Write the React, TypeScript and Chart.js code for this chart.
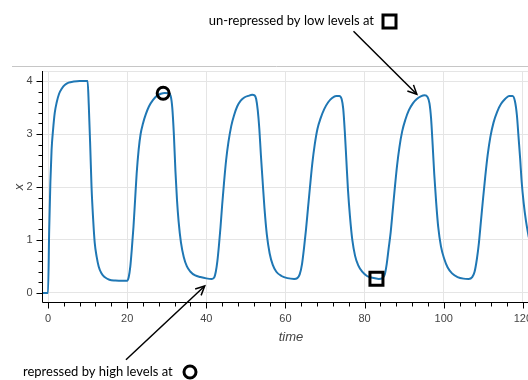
import React, { useEffect, useRef } from "react";
import { Chart, registerables } from "chart.js";

Chart.register(...registerables);

// time samples and x(t) values
const times: number[] = [
  -1.5, 0, 0, 0.3, 0.6, 0.9, 1.3, 1.7, 2.2, 2.8, 3.5, 4.3, 5.2, 6.5, 8, 10,
  10.3, 10.7, 11.0, 11.4, 11.8, 12.3, 12.8, 13.5, 14.3, 15.5, 17, 19, 20,
  20.4, 20.8, 21.2, 21.6, 22.0, 22.4, 22.9, 23.4, 24, 24.7, 25.5, 26.5, 27.5, 28.5, 29.5, 30.5,
  31.0, 31.4, 31.8, 32.2, 32.6, 33.0, 33.6, 34.3, 35.1, 36, 37.2, 38.5, 40, 41.4,
  42, 42.4, 42.8, 43.2, 43.6, 44.0, 44.5, 45.0, 45.6, 46.3, 47.0, 47.8, 48.7, 49.6, 50.6, 51.6,
  52.2, 52.6, 53.0, 53.4, 53.8, 54.2, 54.7, 55.3, 56.0, 56.8, 57.7, 59, 60.5, 62.2,
  63, 63.6, 64.2, 64.7, 65.2, 65.7, 66.2, 66.8, 67.4, 68.1, 68.9, 69.8, 70.8, 71.8, 72.8, 73.6,
  74.2, 74.6, 75.0, 75.4, 75.8, 76.3, 76.9, 77.6, 78.4, 79.4, 80.6, 82, 83.6,
  84.5, 85.1, 85.6, 86.1, 86.6, 87.1, 87.6, 88.2, 88.8, 89.5, 90.3, 91.2, 92.2, 93.2, 94.2, 95.2,
  95.9, 96.4, 96.8, 97.2, 97.6, 98.1, 98.6, 99.3, 100.1, 101, 102.1, 103.5, 105, 106.3,
  107.2, 107.8, 108.4, 108.9, 109.4, 109.9, 110.5, 111.1, 111.8, 112.6, 113.5, 114.5, 115.5, 116.5, 117.4,
  118.0, 118.5, 118.9, 119.3, 119.7, 120.2, 120.8, 121.5,
];
const xValues: number[] = [
  0, 0, 0, 1.2, 2.1, 2.7, 3.1, 3.4, 3.6, 3.76, 3.86, 3.93, 3.97, 3.99, 4.0, 4.0,
  3.55, 2.7, 2.0, 1.4, 0.95, 0.68, 0.5, 0.37, 0.3, 0.25, 0.235, 0.23, 0.23,
  0.3, 0.5, 0.85, 1.25, 1.75, 2.25, 2.7, 3.0, 3.2, 3.37, 3.52, 3.64, 3.72, 3.76, 3.775, 3.77,
  3.72, 3.5, 3.0, 2.3, 1.75, 1.35, 0.95, 0.68, 0.5, 0.4, 0.33, 0.3, 0.275, 0.265,
  0.29, 0.4, 0.6, 0.9, 1.25, 1.65, 2.1, 2.5, 2.85, 3.15, 3.35, 3.52, 3.63, 3.69, 3.72, 3.74,
  3.73, 3.66, 3.45, 3.1, 2.6, 2.15, 1.6, 1.1, 0.75, 0.53, 0.4, 0.32, 0.28, 0.265,
  0.28, 0.35, 0.55, 0.85, 1.2, 1.6, 2.0, 2.45, 2.8, 3.1, 3.3, 3.47, 3.6, 3.68, 3.72, 3.72,
  3.66, 3.48, 3.05, 2.5, 1.95, 1.45, 1.0, 0.7, 0.52, 0.4, 0.32, 0.285, 0.265,
  0.28, 0.35, 0.55, 0.85, 1.15, 1.55, 1.95, 2.4, 2.75, 3.05, 3.27, 3.45, 3.58, 3.66, 3.71, 3.73,
  3.7, 3.58, 3.3, 2.8, 2.25, 1.7, 1.25, 0.88, 0.65, 0.48, 0.37, 0.3, 0.27, 0.265,
  0.3, 0.4, 0.65, 0.95, 1.35, 1.75, 2.2, 2.6, 2.95, 3.22, 3.42, 3.57, 3.66, 3.72, 3.72,
  3.62, 3.35, 2.95, 2.55, 2.1, 1.7, 1.35, 1.05,
];

// highlighted points
const highPoint = { t: 29.1, x: 3.77 };
const lowPoint = { t: 83.0, x: 0.27 };

// axis ticks
const xMajorTicks: number[] = [0, 20, 40, 60, 80, 100, 120];
const xMinorStep = 4;
const yMajorTicks: number[] = [0, 1, 2, 3, 4];
const yMinorStep = 0.2;

// annotations (arrow start and tip in data units)
const topText = "un-repressed by low levels at";
const bottomText = "repressed by high levels at";
const topArrow = { from: { t: 77.2, x: 4.94 }, to: { t: 93.2, x: 3.75 } };
const bottomArrow = { from: { t: 19.7, x: -1.26 }, to: { t: 39.6, x: 0.13 } };

const X_MIN = -1.52;
const X_MAX = 121.5;
const Y_MIN = -0.19;
const Y_MAX = 4.19;

const VIEW_W = 528;
const CANVAS_W = 541;

function drawArrow(ctx: CanvasRenderingContext2D, x1: number, y1: number, x2: number, y2: number) {
  ctx.save();
  ctx.strokeStyle = "#000";
  ctx.lineWidth = 1.5;
  ctx.beginPath();
  ctx.moveTo(x1, y1);
  ctx.lineTo(x2, y2);
  ctx.stroke();
  const a = Math.atan2(y2 - y1, x2 - x1);
  const len = 10;
  const spread = Math.PI / 7;
  ctx.beginPath();
  ctx.moveTo(x2 - len * Math.cos(a - spread), y2 - len * Math.sin(a - spread));
  ctx.lineTo(x2, y2);
  ctx.lineTo(x2 - len * Math.cos(a + spread), y2 - len * Math.sin(a + spread));
  ctx.stroke();
  ctx.restore();
}

const overlayPlugin = {
  id: "overlay",
  afterDraw(chart: any) {
    const ctx: CanvasRenderingContext2D = chart.ctx;
    const { left, right, top, bottom } = chart.chartArea;
    const xs = chart.scales.x;
    const ys = chart.scales.y;
    ctx.save();

    // toolbar separator line
    ctx.strokeStyle = "#c6c6c6";
    ctx.lineWidth = 1;
    ctx.beginPath();
    ctx.moveTo(12, top - 4.5);
    ctx.lineTo(chart.width, top - 4.5);
    ctx.stroke();

    // frame outline top
    ctx.strokeStyle = "#e5e5e5";
    ctx.beginPath();
    ctx.moveTo(left, top + 0.5);
    ctx.lineTo(right, top + 0.5);
    ctx.stroke();

    // axes
    ctx.strokeStyle = "#000";
    ctx.lineWidth = 1;
    const ax = Math.round(left) + 0.5;
    const ay = Math.round(bottom) - 0.5;
    ctx.beginPath();
    ctx.moveTo(ax, top);
    ctx.lineTo(ax, ay);
    ctx.lineTo(right, ay);
    ctx.stroke();

    // y ticks
    ctx.beginPath();
    for (let v = 0; v <= Y_MAX + 1e-9; v += yMinorStep) {
      const py = Math.round(ys.getPixelForValue(v)) + 0.5;
      const isMajor = Math.abs(v - Math.round(v)) < 1e-6;
      ctx.moveTo(ax, py);
      ctx.lineTo(ax - (isMajor ? 6 : 4), py);
    }
    // x ticks
    for (let v = 0; v <= X_MAX + 1e-9; v += xMinorStep) {
      const px = Math.round(xs.getPixelForValue(v)) + 0.5;
      const isMajor = v % 20 === 0;
      ctx.moveTo(px, ay);
      ctx.lineTo(px, ay + (isMajor ? 6 : 4));
    }
    ctx.stroke();

    // tick labels
    ctx.fillStyle = "#444";
    ctx.font = "11px 'Liberation Sans', Arial, sans-serif";
    ctx.textAlign = "right";
    ctx.textBaseline = "middle";
    yMajorTicks.forEach((v) => {
      ctx.fillText(String(v), ax - 10, ys.getPixelForValue(v));
    });
    ctx.textAlign = "center";
    ctx.textBaseline = "top";
    xMajorTicks.forEach((v) => {
      ctx.fillText(String(v), xs.getPixelForValue(v), ay + 11);
    });

    // axis titles
    ctx.font = "italic 13px 'Liberation Sans', Arial, sans-serif";
    ctx.textBaseline = "middle";
    ctx.fillText("time", 291, ay + 35);
    ctx.save();
    ctx.translate(19, (top + bottom) / 2);
    ctx.rotate(-Math.PI / 2);
    ctx.fillText("x", 0, 0);
    ctx.restore();

    // annotations
    ctx.fillStyle = "#000";
    ctx.font = "13px Lato, 'Open Sans', sans-serif";
    ctx.textBaseline = "middle";
    ctx.textAlign = "right";
    const tx1 = xs.getPixelForValue(topArrow.from.t);
    const ty1 = ys.getPixelForValue(topArrow.from.x);
    ctx.fillText(topText, 374, 21);
    drawArrow(ctx, tx1, ty1, xs.getPixelForValue(topArrow.to.t), ys.getPixelForValue(topArrow.to.x));
    ctx.lineWidth = 3;
    ctx.strokeStyle = "#000";
    ctx.strokeRect(383, 15, 13, 13);

    const bx1 = xs.getPixelForValue(bottomArrow.from.t);
    const by1 = ys.getPixelForValue(bottomArrow.from.x);
    ctx.textAlign = "left";
    ctx.fillText(bottomText, 23, 372);
    drawArrow(ctx, bx1, by1, xs.getPixelForValue(bottomArrow.to.t), ys.getPixelForValue(bottomArrow.to.x));
    ctx.lineWidth = 3;
    ctx.beginPath();
    ctx.arc(190, 372, 6, 0, Math.PI * 2);
    ctx.stroke();

    ctx.restore();
  },
};

export default function App() {
  const canvasRef = useRef<HTMLCanvasElement | null>(null);

  useEffect(() => {
    document.body.style.margin = "0";
    const canvas = canvasRef.current;
    if (!canvas) return;
    const chart = new Chart(canvas, {
      type: "line",
      data: {
        datasets: [
          {
            type: "scatter",
            data: [{ x: highPoint.t, y: highPoint.x }],
            pointStyle: "circle",
            pointRadius: 6,
            borderWidth: 3,
            borderColor: "#000",
            backgroundColor: "rgba(0,0,0,0)",
            showLine: false,
            order: 0,
          } as any,
          {
            type: "scatter",
            data: [{ x: lowPoint.t, y: lowPoint.x }],
            pointStyle: "rect",
            pointRadius: 9.2,
            borderWidth: 3,
            borderColor: "#000",
            backgroundColor: "rgba(0,0,0,0)",
            showLine: false,
            order: 0,
          } as any,
          {
            data: times.map((t, i) => ({ x: t, y: xValues[i] })),
            borderColor: "#1f77b4",
            borderWidth: 2,
            pointRadius: 0,
            fill: false,
            cubicInterpolationMode: "monotone",
            order: 1,
          } as any,
        ],
      },
      options: {
        animation: false,
        responsive: false,
        devicePixelRatio: 1,
        layout: { padding: { left: 42, right: 0, top: 71, bottom: 77 } },
        plugins: { legend: { display: false }, tooltip: { enabled: false } },
        scales: {
          x: {
            type: "linear",
            min: X_MIN,
            max: X_MAX,
            afterBuildTicks: (scale: any) => {
              scale.ticks = xMajorTicks.map((v) => ({ value: v }));
            },
            ticks: { display: false },
            grid: { color: "#e5e5e5", drawTicks: false },
            border: { display: false },
          },
          y: {
            type: "linear",
            min: Y_MIN,
            max: Y_MAX,
            afterBuildTicks: (scale: any) => {
              scale.ticks = yMajorTicks.map((v) => ({ value: v }));
            },
            ticks: { display: false },
            grid: { color: "#e5e5e5", drawTicks: false },
            border: { display: false },
          },
        },
      },
      plugins: [overlayPlugin],
    });
    return () => chart.destroy();
  }, []);

  return (
    <div style={{ width: VIEW_W, height: 380, overflow: "hidden" }}>
      <canvas ref={canvasRef} width={CANVAS_W} height={380} />
    </div>
  );
}
